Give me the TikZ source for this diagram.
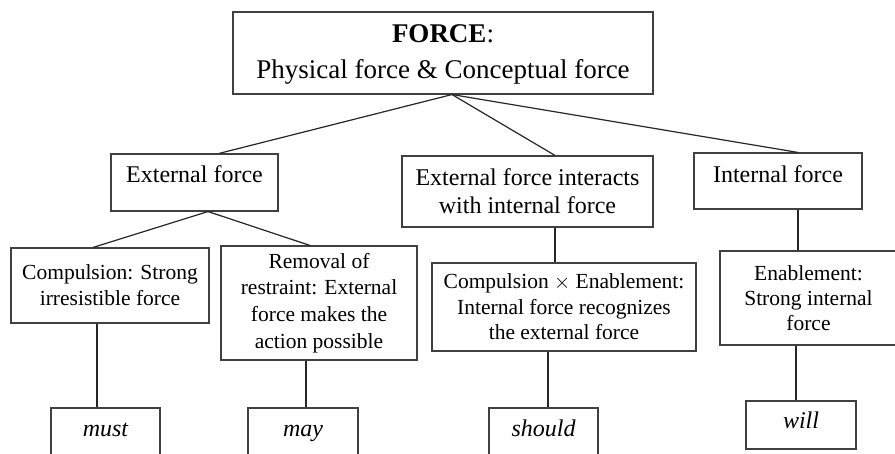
\documentclass[tikz,border=0pt]{standalone}
\usepackage{fontspec}
\setmainfont{Liberation Serif}
\begin{document}
\begin{tikzpicture}[x=1pt,y=-1pt,
  box/.style={draw=black!75, line width=1.1pt, rectangle, inner sep=0pt, align=center, fill=white},
  conn/.style={draw=black!85, line width=1.2pt},
  lvlone/.style={font=\fontsize{27}{36}\selectfont, align=center, inner sep=0pt},
  lvltwo/.style={font=\fontsize{24}{28}\selectfont, align=center, inner sep=0pt},
  lvlthree/.style={font=\fontsize{21.5}{26}\selectfont},
  word/.style={font=\fontsize{24}{28}\itshape, anchor=base, inner sep=0pt}]
\useasboundingbox (0,0) rectangle (895,454);

% level 0
\node[box, minimum width=420, minimum height=82] (top) at (443,53) {};
\node[lvlone] (toptxt) at (443,54) {\textbf{FORCE}:\\Physical force \& Conceptual force};

% level 1
\node[box, minimum width=167, minimum height=57] (ext) at (194.5,182.5) {};
\node[lvltwo, anchor=base] (exttxt) at (194.5,183) {External force};
\node[box, lvltwo, minimum width=251, minimum height=71] (mid) at (527.5,191.5) {External force interacts\\with internal force};
\node[box, minimum width=168, minimum height=56] (int) at (778,181) {};
\node[lvltwo, anchor=base] (inttxt) at (778,183) {Internal force};

% level 2
\node[box, lvlthree, minimum width=198, minimum height=75] (comp) at (110,285.5) {Compulsion: Strong\\irresistible force};
\node[box, lvlthree, font=\fontsize{21.5}{26.7}\selectfont, minimum width=196, minimum height=114] (rem) at (319,303) {Removal of\\restraint: External\\force makes the\\action possible};
\node[box, lvlthree, font=\fontsize{21.5}{25.5}\selectfont, minimum width=264, minimum height=88] (ce) at (564,307) {Compulsion $\times$ Enablement:\\Internal force recognizes\\the external force};
\node[box, lvlthree, font=\fontsize{21.5}{25}\selectfont, minimum width=177, minimum height=94] (en) at (808.5,298) {Enablement:\\Strong internal\\force};

% level 3
\node[box, minimum width=109, minimum height=72] (must) at (105.5,444) {};
\node[word] (musttxt) at (105.5,436) {must};
\node[box, minimum width=110, minimum height=72] (may) at (303,444) {};
\node[word] (maytxt) at (303,436) {may};
\node[box, minimum width=109, minimum height=72] (should) at (543.5,444) {};
\node[word] (shouldtxt) at (543.5,436) {should};
\node[box, minimum width=110, minimum height=48] (will) at (801,425) {};
\node[word] (willtxt) at (801,429) {will};

% connectors
\coordinate (apex) at ([xshift=9]top.south);
\draw[conn] (apex) -- ([xshift=24.5]ext.north);
\draw[conn] (apex) -- ([xshift=27.5]mid.north);
\draw[conn] (apex) -- ([xshift=20]int.north);

\coordinate (extb) at ([xshift=13.5]ext.south);
\draw[conn] (extb) -- ([xshift=-17]comp.north);
\draw[conn] (extb) -- ([xshift=-9]rem.north);

\draw[conn] ([xshift=-13]comp.south) -- ([xshift=-13]comp.south |- must.north);
\draw[conn] ([xshift=-13]rem.south) -- ([xshift=-13]rem.south |- may.north);
\draw[conn] ([xshift=27.5]mid.south) -- ([xshift=27.5]mid.south |- ce.north);
\draw[conn] ([xshift=-16]ce.south) -- ([xshift=-16]ce.south |- should.north);
\draw[conn] ([xshift=20]int.south) -- ([xshift=20]int.south |- en.north);
\draw[conn] ([xshift=-12.5]en.south) -- ([xshift=-12.5]en.south |- will.north);
\end{tikzpicture}
\end{document}
